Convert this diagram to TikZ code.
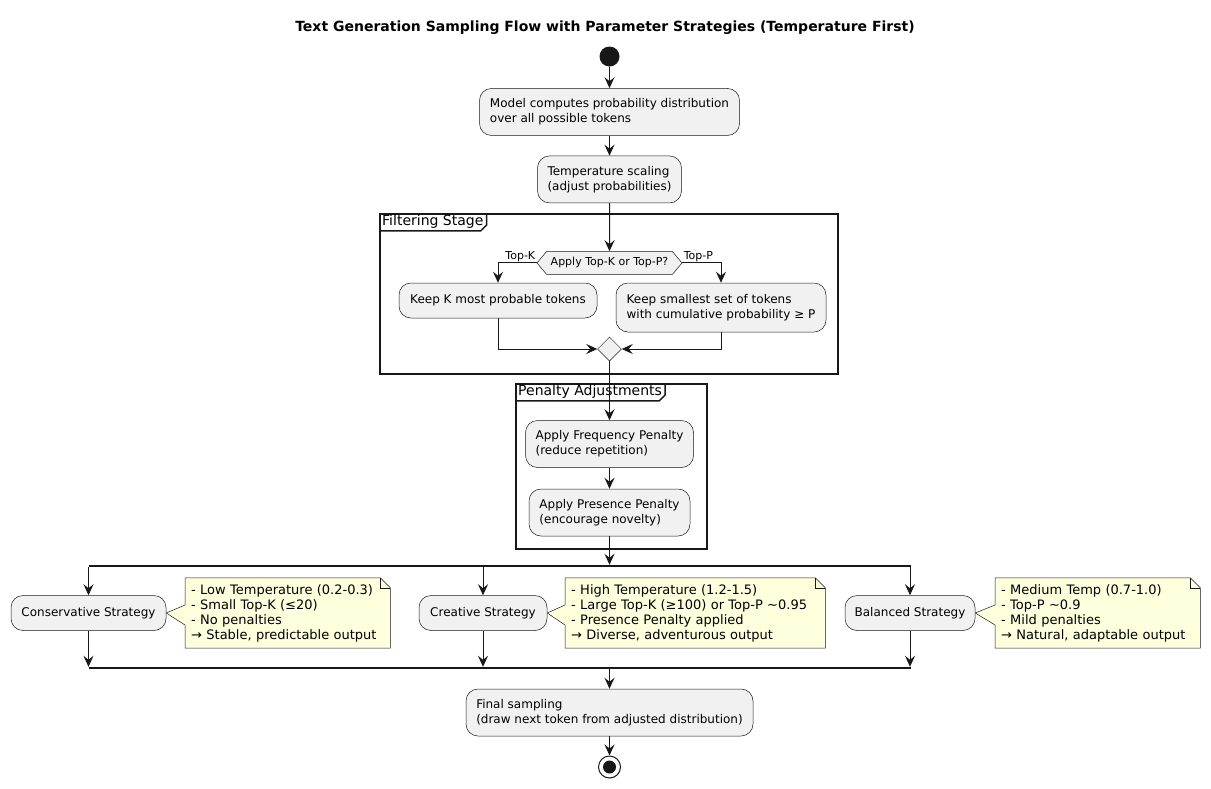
\documentclass[tikz,border=0pt]{standalone}
\usepackage{fontspec}
\setmainfont{DejaVu Sans}
\usepackage{xcolor}
\usepackage{tikz}
\usetikzlibrary{positioning}
\usetikzlibrary{shapes.geometric, shapes.symbols}
\usetikzlibrary{arrows.meta}
\definecolor{actfill}{HTML}{F1F1F1}
\definecolor{actline}{HTML}{181818}
\definecolor{notefill}{HTML}{FEFFDD}
\tikzstyle{arrow} = [line width=1pt,draw=actline,-{Stealth[length=11pt,width=10pt,inset=4pt]}]
\pgfdeclarelayer{bg}
\pgfsetlayers{bg,main}

\begin{document}
\begin{tikzpicture}[x=1pt, y=1pt,
  node distance = 20pt,
  headline/.style = {font=\fontsize{14}{16}\selectfont\bfseries},
  box/.style = {draw=actline,line width=0.5pt,rounded corners=12pt,fill=actfill,
        align=left,inner sep=0pt,font=\fontsize{12}{15}\selectfont},
  choice/.style = {signal,signal to=east and west,signal pointer angle=100,
        draw=actline,line width=0.5pt,fill=actfill,minimum width=145pt,
        minimum height=23pt,inner sep=0pt,font=\fontsize{11}{13}\selectfont},
  mergept/.style = {diamond,draw=actline,line width=0.5pt,fill=actfill,
        minimum width=24pt,minimum height=24pt,inner sep=0pt},
  startdot/.style = {circle,fill=actline,minimum size=20pt,inner sep=0pt},
  enddot/.style = {circle,draw=actline,line width=1pt,fill=white,minimum size=22pt,
        inner sep=0pt,path picture={\fill[actline] (path picture bounding box.center) circle (6.5pt);}},
  stageframe/.style = {draw=actline,line width=1.5pt,inner sep=0pt},
  framelab/.style = {anchor=north west,inner xsep=3pt,inner ysep=2pt,
        font=\fontsize{14}{16}\selectfont},
  edgelab/.style = {inner sep=1pt,font=\fontsize{11}{13}\selectfont},
  forkbar/.style = {fill=actline,minimum width=822pt,minimum height=2pt,inner sep=0pt},
  notetext/.style = {anchor=west,align=left,text width=193pt,inner xsep=6pt,
        inner ysep=0pt,minimum height=70pt,font=\fontsize{13}{15}\selectfont},
  notedraw/.style = {draw=actline,line width=0.5pt,fill=notefill}
]
\useasboundingbox (0,0) rectangle (1211,-788);
\node[headline] (title) at (605,-28) {Text Generation Sampling Flow with Parameter Strategies (Temperature First)};

% main column
\node[startdot] (start) at (609.5,-56.5) {};
\node[box,minimum width=260pt,minimum height=47pt,below=21.5pt of start] (model)
  {Model computes probability distribution\\over all possible tokens};
\node[box,minimum width=144pt,minimum height=47pt,below=20pt of model] (temp)
  {Temperature scaling\\(adjust probabilities)};

% filtering stage
\node[stageframe,minimum width=458pt,minimum height=160pt,anchor=north west] (filt) at (379,-213) {};
\node[framelab] (labfilt) at (filt.north west) {Filtering Stage};
\node[choice,below=48pt of temp] (pick) {Apply Top-K or Top-P?};
\node[box,minimum width=198pt,minimum height=35pt] (keepk) at (498,-300.5) {Keep K most probable tokens};
\node[box,minimum width=210pt,minimum height=49pt] (keepp) at (721,-307.5)
  {Keep smallest set of tokens\\with cumulative probability ≥ P};
\node[mergept] (merge) at (609.5,-349) {};

% penalty adjustments
\node[stageframe,minimum width=191pt,minimum height=165pt,anchor=north west] (pen) at (515,-383) {};
\node[framelab] (labpen) at (pen.north west) {Penalty Adjustments};
\node[box,minimum width=168pt,minimum height=47pt,below=59pt of merge] (freq)
  {Apply Frequency Penalty\\(reduce repetition)};
\node[box,minimum width=161pt,minimum height=47pt,below=21pt of freq] (pres)
  {Apply Presence Penalty\\(encourage novelty)};

% strategies
\node[forkbar] (fork) at (499.5,-566) {};
\node[box,minimum width=155pt,minimum height=35pt] (cons) at (88.5,-613) {Conservative Strategy};
\node[box,minimum width=128pt,minimum height=35pt] (crea) at (483,-613) {Creative Strategy};
\node[box,minimum width=130pt,minimum height=35pt] (bal) at (910,-613) {Balanced Strategy};
\node[notetext] (consnote) at (185,-613)
  {- Low Temperature (0.2-0.3)\\- Small Top-K (≤20)\\- No penalties\\→ Stable, predictable output};
\node[notetext,text width=248pt] (creanote) at (565,-613)
  {- High Temperature (1.2-1.5)\\- Large Top-K (≥100) or Top-P \textasciitilde 0.95\\- Presence Penalty applied\\→ Diverse, adventurous output};
\node[notetext] (balnote) at (995,-613)
  {- Medium Temp (0.7-1.0)\\- Top-P \textasciitilde 0.9\\- Mild penalties\\→ Natural, adaptable output};
\node[forkbar] (join) at (499.5,-668) {};

\node[box,minimum width=287pt,minimum height=47pt] (final) at (609.5,-712.5)
  {Final sampling\\(draw next token from adjusted distribution)};
\node[enddot] (end) at (609.5,-767) {};

% frame tabs
\foreach \f in {filt,pen}
  \draw[line width=1.5pt,draw=actline] (lab\f.south west) -- ([xshift=-6pt]lab\f.south east)
    -- ([yshift=6pt]lab\f.south east) -- (lab\f.north east);

% notes
\foreach \s/\n in {cons/consnote,crea/creanote,bal/balnote} {
  \begin{pgfonlayer}{bg}
  \filldraw[notedraw] (\n.north west) -- ([xshift=-10pt]\n.north east)
    -- ([yshift=-10pt]\n.north east) -- (\n.south east) -- (\n.south west)
    -- ([yshift=-12pt]\n.west) -- (\s.east) -- ([yshift=8pt]\n.west) -- cycle;
  \end{pgfonlayer}
  \draw[notedraw,fill=none] ([xshift=-10pt]\n.north east) |- ([yshift=-10pt]\n.north east);
}

% flow
\draw[arrow] (start) -- (model);
\draw[arrow] (model) -- (temp);
\draw[arrow] (temp) -- (pick);
\draw[arrow] (pick.west) -| node[edgelab,pos=0,anchor=south east] {Top-K} (keepk.north);
\draw[arrow] (pick.east) -| node[edgelab,pos=0,anchor=south west] {Top-P} (keepp.north);
\draw[arrow] (keepk.south) |- (merge.west);
\draw[arrow] (keepp.south) |- (merge.east);
\draw[arrow] (merge) -- (freq);
\draw[arrow] (freq) -- (pres);
\draw[arrow] (pres) -- (pres |- fork.north);
\foreach \s in {cons,crea,bal} {
  \draw[arrow] (fork.south -| \s) -- (\s);
  \draw[arrow] (\s) -- (join.north -| \s);
}
\draw[arrow] (join.south -| final) -- (final);
\draw[arrow] (final) -- (end);
\end{tikzpicture}
\end{document}
